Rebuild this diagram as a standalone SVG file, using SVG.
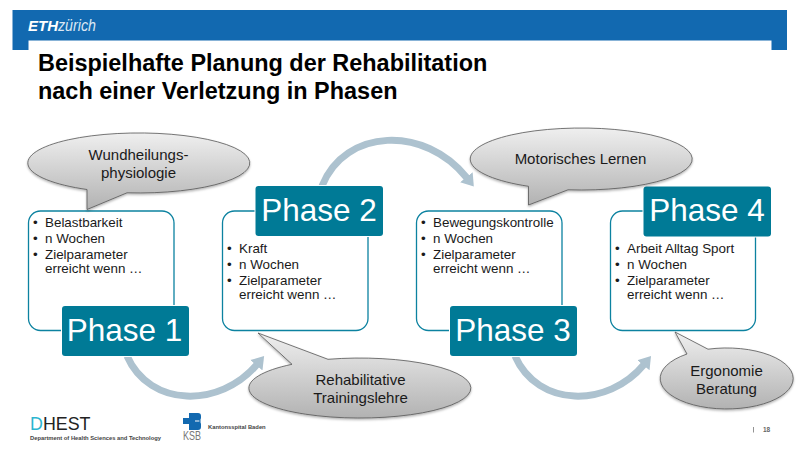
<svg xmlns="http://www.w3.org/2000/svg" width="800" height="450" viewBox="0 0 800 450">
<defs>
<linearGradient id="g" x1="0" y1="0" x2="0" y2="1"><stop offset="0" stop-color="#efefef"/><stop offset="1" stop-color="#b2b2b2"/></linearGradient>
<filter id="s" x="-10%" y="-10%" width="120%" height="125%"><feDropShadow dx="0" dy="1.5" stdDeviation="1.2" flood-color="#000" flood-opacity="0.3"/></filter>
<marker id="ah" markerUnits="userSpaceOnUse" markerWidth="16" markerHeight="20" refX="1" refY="9" orient="auto"><path d="M0 1L12 9L0 17Z" fill="#adc2cf"/></marker>
</defs>
<style>
text{font-family:"Liberation Sans",Arial,sans-serif;fill:#1a1a1a}
.box{fill:#fff;stroke:#0c82a0;stroke-width:1.3}
.ph{fill:#007a96}
.pt{fill:#fff;font-size:31.500px;text-anchor:middle}
.b{font-size:13.400px}
.call{stroke:#555;stroke-width:.8;fill:url(#g);filter:url(#s)}
.cl{font-size:15px;text-anchor:middle}
.arr{fill:none;stroke:#adc2cf;stroke-width:7}
</style>
<rect width="800" height="450" fill="#fff"/>
<path d="M12.500 10H787V50H771.500V40.500H28.500V50H12.500Z" fill="#1269b0"/>
<text x="28" y="30.700" font-size="15" font-weight="700" font-style="italic" style="fill:#fff">ETH</text>
<text x="58" y="30.700" font-size="16" font-style="italic" textLength="38" lengthAdjust="spacingAndGlyphs" style="fill:#dbe7f3">zürich</text>
<text x="38" y="71" font-size="23.450" font-weight="700" style="fill:#000">Beispielhafte Planung der Rehabilitation</text>
<text x="38" y="99" font-size="23.450" font-weight="700" style="fill:#000">nach einer Verletzung in Phasen</text>
<g id="connectors">
<path class="arr" d="M127 356C150 408 220 408 257 364.500" marker-end="url(#ah)"/>
<path class="arr" d="M322 186C345 128 425 125 467 178" marker-end="url(#ah)"/>
<path class="arr" d="M515 356C538 408 608 408 644 364.500" marker-end="url(#ah)"/>
</g>
<g id="box1"><rect class="box" x="28.500" y="211" width="145.500" height="119.500" rx="12"/>
<text class="b" x="33" y="227">•</text><text class="b" x="45" y="227">Belastbarkeit</text>
<text class="b" x="33" y="243">•</text><text class="b" x="45" y="243">n Wochen</text>
<text class="b" x="33" y="259">•</text><text class="b" x="45" y="259">Zielparameter</text>
<text class="b" x="45" y="273">erreicht wenn …</text></g>
<g id="box2"><rect class="box" x="222.500" y="211" width="145.500" height="119.500" rx="12"/>
<text class="b" x="227" y="252.500">•</text><text class="b" x="239" y="252.500">Kraft</text>
<text class="b" x="227" y="268.500">•</text><text class="b" x="239" y="268.500">n Wochen</text>
<text class="b" x="227" y="284.500">•</text><text class="b" x="239" y="284.500">Zielparameter</text>
<text class="b" x="239" y="298.500">erreicht wenn …</text></g>
<g id="box3"><rect class="box" x="416.500" y="211" width="145.500" height="119.500" rx="12"/>
<text class="b" x="421" y="227">•</text><text class="b" x="433" y="227">Bewegungskontrolle</text>
<text class="b" x="421" y="243">•</text><text class="b" x="433" y="243">n Wochen</text>
<text class="b" x="421" y="259">•</text><text class="b" x="433" y="259">Zielparameter</text>
<text class="b" x="433" y="273">erreicht wenn …</text></g>
<g id="box4"><rect class="box" x="610.500" y="211" width="145" height="119.500" rx="12"/>
<text class="b" x="615" y="252.500">•</text><text class="b" x="627" y="252.500">Arbeit Alltag Sport</text>
<text class="b" x="615" y="268.500">•</text><text class="b" x="627" y="268.500">n Wochen</text>
<text class="b" x="615" y="284.500">•</text><text class="b" x="627" y="284.500">Zielparameter</text>
<text class="b" x="627" y="298.500">erreicht wenn …</text></g>
<g id="phase1"><rect x="61" y="305" width="129" height="52" rx="3" fill="#fff"/><rect class="ph" x="62" y="306" width="127" height="50" rx="3"/><text class="pt" x="124.500" y="340.500">Phase 1</text></g>
<g id="phase2"><rect x="254.500" y="185" width="129" height="52" rx="3" fill="#fff"/><rect class="ph" x="255.500" y="186" width="127.500" height="50" rx="3"/><text class="pt" x="319" y="220.500">Phase 2</text></g>
<g id="phase3"><rect x="449" y="305" width="129" height="52" rx="3" fill="#fff"/><rect class="ph" x="450" y="306" width="127" height="50" rx="3"/><text class="pt" x="513" y="340.500">Phase 3</text></g>
<g id="phase4"><rect x="642.500" y="185.500" width="129.500" height="52" rx="3" fill="#fff"/><rect class="ph" x="643.500" y="186.500" width="127.500" height="50" rx="3"/><text class="pt" x="707" y="220.500">Phase 4</text></g>
<g id="callout1"><path class="call" d="M87 189.500A111 30 0 1 1 127 192.800L87 209.500Z"/>
<text class="cl" x="138.500" y="160">Wundheilungs-</text><text class="cl" x="138.500" y="178">physiologie</text></g>
<g id="callout2"><path class="call" d="M258 333L328 359.300A111 30 0 1 1 292 364.300Z"/>
<text class="cl" x="360.500" y="384.500">Rehabilitative</text><text class="cl" x="360.500" y="402.500">Trainingslehre</text></g>
<g id="callout3"><path class="call" d="M528.500 186.300A111 31 0 1 1 568 189.800L528.500 205Z"/>
<text class="cl" x="580.500" y="164">Motorisches Lernen</text></g>
<g id="callout4"><path class="call" d="M675 332L708 349.200A66.500 30.500 0 1 1 687 354Z"/>
<text class="cl" x="726.500" y="375.500">Ergonomie</text><text class="cl" x="726.500" y="393.500">Beratung</text></g>
<g id="footer">
<text x="30" y="430.300" font-size="18.600" textLength="60.500" lengthAdjust="spacingAndGlyphs" style="fill:#222"><tspan style="fill:#2bb5d0">D</tspan>HEST</text>
<text x="30" y="439.500" font-size="5.800" font-weight="700" style="fill:#444">Department of Health Sciences and Technology</text>
<path d="M189 413h9q3 0 3 3v2q0 2-2 3q2 1 2 3v3q0 3-3 3h-9v-6h-6v-6h6zM195 420.500v1h6v-1z" fill-rule="evenodd" fill="#1269b0"/>
<text x="183" y="439.500" font-size="12.500" textLength="18" lengthAdjust="spacingAndGlyphs" style="fill:#777">KSB</text>
<text x="208" y="429" font-size="5.800" font-weight="700" style="fill:#444">Kantonsspital Baden</text>
<path d="M753.500 427v5.500" stroke="#777" stroke-width=".8"/>
<text x="763" y="432" font-size="6.500" font-weight="700" style="fill:#666">18</text>
</g>
</svg>
